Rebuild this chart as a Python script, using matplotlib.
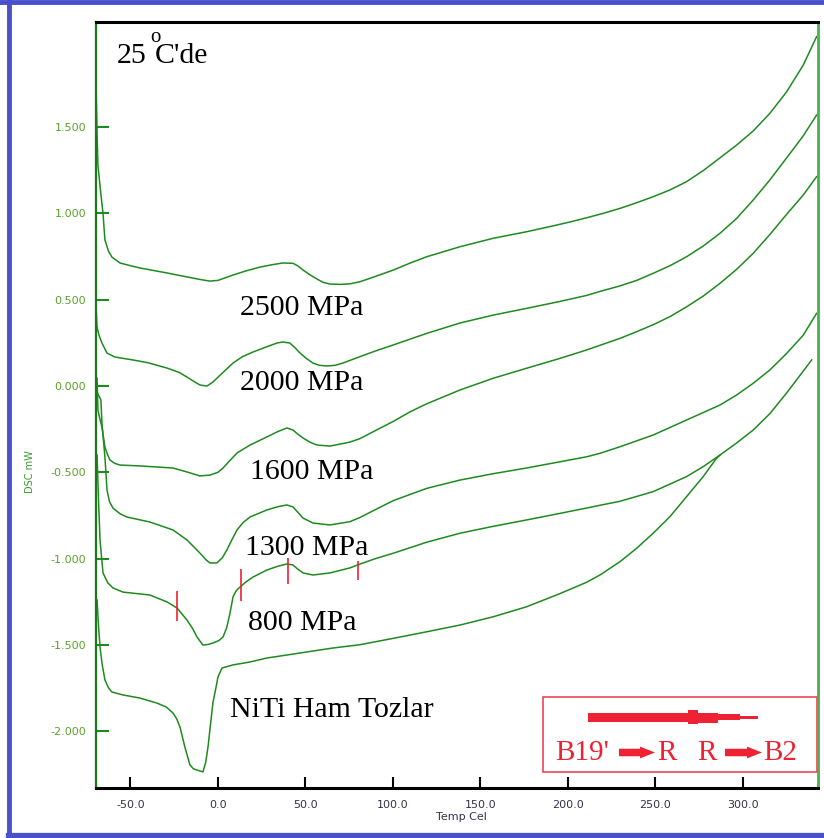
import numpy as np
import matplotlib.pyplot as plt
from matplotlib.patches import Rectangle
from matplotlib.lines import Line2D

# DSC curves after pressing at 25 C (temperature in Cel, heat flow in mW)
t_2500 = [-69.7, -69.1, -68.6, -67.0, -65.7, -64.6, -62.5, -60.6, -56.0, -50.0, -44.6, -29.1, -17.7, -10.0, -4.6,
          0.0, 8.6, 16.0, 24.0, 31.0, 37.1, 42.9, 45.5, 48.6, 52.5, 56.6, 60.0, 64.0, 70.0, 75.4, 81.1, 90.0,
          100.2, 109.7, 119.3, 138.3, 157.3, 176.4, 191.6, 203.0, 210.7, 220.0, 229.7, 239.3, 248.7, 258.3,
          267.8, 277.3, 286.9, 296.4, 305.9, 315.4, 325.0, 334.5, 342.1]
dsc_2500 = [1.773, 1.466, 1.280, 1.120, 1.002, 0.846, 0.780, 0.747, 0.713, 0.697, 0.684, 0.655, 0.632, 0.617, 0.608,
            0.612, 0.643, 0.667, 0.689, 0.703, 0.713, 0.711, 0.697, 0.672, 0.645, 0.620, 0.601, 0.591, 0.589, 0.592,
            0.604, 0.635, 0.672, 0.712, 0.749, 0.807, 0.856, 0.894, 0.928, 0.955, 0.975, 1.000, 1.029, 1.062,
            1.097, 1.136, 1.184, 1.248, 1.322, 1.396, 1.478, 1.580, 1.705, 1.860, 2.024]

t_2000 = [-69.7, -69.1, -68.0, -66.3, -63.4, -58.9, -48.6, -40.0, -29.1, -22.0, -17.7, -13.5, -10.3, -6.3, -2.9,
          2.0, 8.6, 14.0, 20.0, 28.0, 34.0, 37.1, 41.1, 44.0, 46.9, 50.5, 54.3, 58.0, 62.3, 67.0, 71.4, 81.1,
          90.0, 100.2, 119.3, 138.3, 157.3, 176.4, 195.4, 210.7, 218.3, 229.7, 239.3, 248.7, 258.3, 267.8,
          277.3, 286.9, 296.4, 305.9, 315.4, 325.0, 334.5, 342.1]
dsc_2000 = [0.469, 0.342, 0.295, 0.249, 0.191, 0.168, 0.151, 0.135, 0.104, 0.078, 0.052, 0.025, 0.006, 0.000, 0.023,
            0.070, 0.133, 0.170, 0.197, 0.228, 0.250, 0.255, 0.249, 0.222, 0.191, 0.160, 0.133, 0.120, 0.116, 0.120,
            0.133, 0.170, 0.203, 0.238, 0.305, 0.365, 0.411, 0.450, 0.490, 0.525, 0.548, 0.580, 0.612, 0.653,
            0.697, 0.749, 0.811, 0.885, 0.971, 1.078, 1.194, 1.322, 1.450, 1.570]

t_1600 = [-69.1, -68.6, -67.5, -66.3, -64.6, -63.0, -61.7, -59.0, -56.0, -44.6, -25.7, -17.7, -10.3, -4.6, 0.0,
          2.9, 7.0, 10.9, 18.3, 28.0, 34.0, 39.4, 42.9, 45.5, 48.6, 52.5, 56.6, 64.0, 75.4, 81.1, 90.0, 100.2,
          109.7, 119.3, 138.3, 157.3, 176.4, 195.4, 210.7, 229.7, 239.3, 248.7, 258.3, 267.8, 277.3, 286.9,
          296.4, 305.9, 315.4, 325.0, 334.5, 342.1]
dsc_1600 = [0.046, -0.139, -0.190, -0.238, -0.353, -0.400, -0.429, -0.448, -0.458, -0.463, -0.475, -0.498, -0.521,
            -0.516, -0.500, -0.475, -0.430, -0.388, -0.342, -0.295, -0.265, -0.243, -0.255, -0.278, -0.301, -0.325,
            -0.342, -0.348, -0.325, -0.305, -0.258, -0.205, -0.150, -0.103, -0.023, 0.045, 0.103, 0.160, 0.209,
            0.276, 0.315, 0.355, 0.402, 0.459, 0.521, 0.595, 0.676, 0.769, 0.878, 0.995, 1.107, 1.213]

t_1300 = [-69.1, -66.9, -66.3, -64.6, -63.4, -62.0, -60.0, -56.0, -52.0, -38.9, -25.7, -17.7, -10.3, -6.5, -4.6,
          -0.6, 2.5, 5.1, 8.0, 10.9, 14.5, 18.3, 28.0, 34.0, 39.4, 42.9, 45.5, 48.6, 54.3, 64.0, 75.4, 81.1,
          90.0, 100.2, 119.3, 138.3, 157.3, 176.4, 195.4, 210.7, 218.3, 229.7, 248.7, 267.8, 286.9, 296.4,
          305.9, 315.4, 325.0, 334.5, 342.1]
dsc_1300 = [-0.035, -0.081, -0.214, -0.411, -0.603, -0.670, -0.707, -0.740, -0.759, -0.788, -0.834, -0.892, -0.968,
            -1.010, -1.025, -1.025, -0.995, -0.950, -0.890, -0.834, -0.790, -0.759, -0.718, -0.700, -0.689, -0.701,
            -0.730, -0.765, -0.794, -0.805, -0.786, -0.762, -0.716, -0.664, -0.593, -0.545, -0.508, -0.475, -0.439,
            -0.410, -0.390, -0.352, -0.284, -0.197, -0.110, -0.052, 0.016, 0.093, 0.189, 0.295, 0.421]

t_800 = [-69.1, -68.3, -67.4, -65.7, -63.0, -60.0, -54.3, -38.9, -29.1, -23.4, -17.7, -14.5, -12.0, -8.6, -5.5,
         -2.9, 0.5, 2.9, 5.0, 6.9, 8.6, 10.5, 12.6, 16.0, 20.0, 28.0, 34.0, 39.4, 42.9, 45.5, 48.6, 54.3, 64.0,
         75.4, 81.1, 90.0, 100.2, 119.3, 138.3, 157.3, 176.4, 195.4, 210.7, 218.3, 229.7, 248.7, 267.8, 277.3,
         286.9, 296.4, 305.9, 315.4, 325.0, 339.3]
dsc_800 = [-0.400, -0.650, -0.892, -1.083, -1.140, -1.170, -1.194, -1.211, -1.251, -1.286, -1.356, -1.405, -1.454,
           -1.501, -1.497, -1.489, -1.475, -1.454, -1.400, -1.315, -1.222, -1.185, -1.165, -1.135, -1.107, -1.066,
           -1.045, -1.031, -1.037, -1.060, -1.083, -1.095, -1.083, -1.054, -1.032, -1.000, -0.969, -0.905, -0.853,
           -0.813, -0.776, -0.738, -0.707, -0.691, -0.668, -0.612, -0.525, -0.467, -0.400, -0.330, -0.255, -0.160,
           -0.040, 0.151]

t_raw = [-69.1, -68.2, -67.4, -66.3, -64.6, -62.5, -60.6, -54.3, -44.6, -34.9, -29.5, -25.7, -23.5, -21.7, -18.9,
         -16.0, -14.0, -12.0, -8.6, -7.0, -5.7, -2.9, -1.0, 0.0, 2.3, 8.6, 18.3, 28.0, 46.9, 65.7, 81.1, 100.2,
         119.3, 138.3, 157.3, 176.4, 195.4, 210.7, 218.3, 229.7, 239.3, 248.7, 258.3, 267.8, 277.3, 284.9, 286.9]
dsc_raw = [-1.240, -1.400, -1.512, -1.605, -1.703, -1.750, -1.773, -1.790, -1.808, -1.837, -1.860, -1.895, -1.930,
           -1.976, -2.092, -2.196, -2.218, -2.225, -2.236, -2.180, -2.092, -1.837, -1.740, -1.686, -1.634, -1.616,
           -1.599, -1.576, -1.547, -1.518, -1.499, -1.462, -1.424, -1.385, -1.337, -1.279, -1.203, -1.137, -1.095,
           -1.018, -0.940, -0.853, -0.757, -0.641, -0.525, -0.419, -0.400]

# transformation start/end marks on the 800 MPa curve
mark_t = [-23.3, 13.1, 39.8, 79.8]
mark_lo = [-1.362, -1.246, -1.147, -1.124]
mark_hi = [-1.188, -1.060, -0.997, -1.014]

curve_labels = ["2500 MPa", "2000 MPa", "1600 MPa", "1300 MPa", "800 MPa", "NiTi Ham Tozlar"]
label_t = [12.6, 12.6, 18.3, 15.4, 17.1, 6.9]
label_v = [0.411, -0.023, -0.539, -0.979, -1.414, -1.918]

xticks = [-50, 0, 50, 100, 150, 200, 250, 300]
yticks = [-2.0, -1.5, -1.0, -0.5, 0.0, 0.5, 1.0, 1.5]

green = "#1f8a1f"
red = "#ee2233"
serif = "Liberation Serif"

fig = plt.figure(figsize=(8.24, 8.38), dpi=100)
ax = fig.add_axes([0.1165, 0.0597, 0.8762, 0.914])

for t, v in [(t_2500, dsc_2500), (t_2000, dsc_2000), (t_1600, dsc_1600),
             (t_1300, dsc_1300), (t_800, dsc_800), (t_raw, dsc_raw)]:
    ax.plot(t, v, color=green, lw=1.1, solid_joinstyle="round")

ax.vlines(mark_t, mark_lo, mark_hi, color=red, lw=1.2)

for s, x, y in zip(curve_labels, label_t, label_v):
    ax.text(x, y, s, family=serif, fontsize=21.5, color="black", ha="left", va="baseline")

ax.set_xlim(-69.7, 342.9)
ax.set_ylim(-2.329, 2.109)

ax.set_xticks(xticks)
ax.set_xticklabels(["%.1f" % x for x in xticks], fontsize=8, color="#333348")
ax.set_yticks(yticks)
ax.set_yticklabels(["%.3f" % y for y in yticks], fontsize=8, color="#5aa02c")
ax.tick_params(axis="x", direction="in", length=8, width=1.5, color="black", pad=9)
ax.tick_params(axis="y", direction="in", length=9, width=1.5, color=green, pad=7)

ax.spines["top"].set_color("black")
ax.spines["top"].set_linewidth(2.2)
ax.spines["bottom"].set_color("black")
ax.spines["bottom"].set_linewidth(2.2)
ax.spines["left"].set_color("#1a7a1a")
ax.spines["left"].set_linewidth(1.6)
ax.spines["right"].set_color("#4caf50")
ax.spines["right"].set_linewidth(2.0)

ax.set_xlabel("Temp Cel", fontsize=8, color="#333348", labelpad=0)
ax.xaxis.set_label_coords(0.506, -0.032)
ax.set_ylabel("DSC mW", fontsize=7, color="#3a9a2a")
ax.yaxis.set_label_coords(-0.085, 0.413)

# note: 25 oC'de
ax.text(0.029, 0.9465, "25", transform=ax.transAxes, family=serif, fontsize=21.5, va="baseline")
ax.text(0.0755, 0.9735, "o", transform=ax.transAxes, family=serif, fontsize=15, va="baseline")
ax.text(0.0817, 0.9465, "C'de", transform=ax.transAxes, family=serif, fontsize=21.5, va="baseline")

# phase sequence box
ax.add_patch(Rectangle((0.619, 0.0209), 0.3795, 0.0979, transform=ax.transAxes,
                       fill=False, edgecolor="#ee4455", lw=1.2, clip_on=False))
bx = [0.6814, 0.8199, 0.8199, 0.8338, 0.8338, 0.8615, 0.8615, 0.8920, 0.8920, 0.9169, 0.9169, 0.9335,
      0.9335, 0.9169, 0.9169, 0.8920, 0.8920, 0.8615, 0.8615, 0.8338, 0.8338, 0.8199, 0.8199, 0.6814]
by = [0.0979, 0.0979, 0.1018, 0.1018, 0.0979, 0.0979, 0.0966, 0.0966, 0.0946, 0.0946, 0.0930, 0.0930,
      0.0924, 0.0924, 0.0907, 0.0907, 0.0888, 0.0888, 0.0849, 0.0849, 0.0836, 0.0836, 0.0862, 0.0862]
ax.fill(bx, by, color=red, transform=ax.transAxes, lw=0)


def small_arrow(x0, x1, x2):
    xs = [x0, x1, x1, x2, x1, x1, x0]
    ys = [0.0512, 0.0512, 0.0540, 0.0463, 0.0386, 0.0414, 0.0414]
    ax.fill(xs, ys, color=red, transform=ax.transAxes, lw=0)


small_arrow(0.7244, 0.7535, 0.7742)
small_arrow(0.8712, 0.9017, 0.9224)
for s, x in [("B19'", 0.6357), ("R", 0.777), ("R", 0.8324), ("B2", 0.9238)]:
    ax.text(x, 0.0366, s, transform=ax.transAxes, family=serif, fontsize=21, color=red, va="baseline")

# outer blue frame (top, left, bottom)
blue = "#4a4fcc"
fig.add_artist(Line2D([0, 1], [0.9976, 0.9976], transform=fig.transFigure, color=blue, lw=3.5))
fig.add_artist(Line2D([0.0115, 0.0115], [0.003, 1], transform=fig.transFigure, color=blue, lw=3.5))
fig.add_artist(Line2D([0.0095, 1], [0.0035, 0.0035], transform=fig.transFigure, color=blue, lw=3.8))

fig.savefig("out.png", dpi=100)
